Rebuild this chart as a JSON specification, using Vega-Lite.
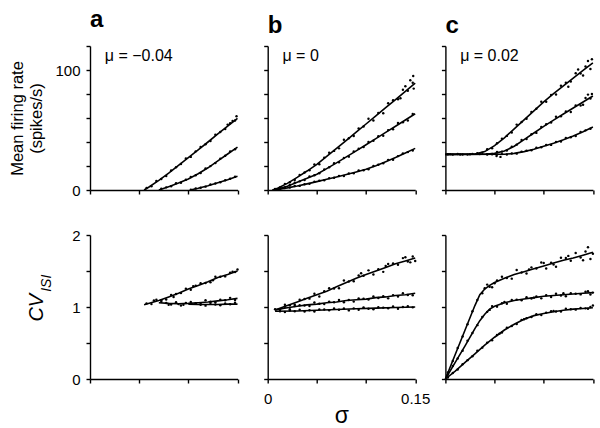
{
"$schema":"https://vega.github.io/schema/vega-lite/v6.json",
"background":"white",
"padding":{"left":9,"top":8,"right":8,"bottom":0},
"config":{
 "font":"Liberation Sans",
 "view":{"stroke":null},
 "axis":{"grid":false,"labelFont":"Liberation Sans","labelFontSize":15,"labelColor":"#000","titleFont":"Liberation Sans","titleFontWeight":"normal","titleColor":"#000","domainColor":"#000","tickColor":"#000","domainWidth":1.4,"tickWidth":1.4,"tickSize":4,"labelFlush":false,"labelOverlap":false,"labelPadding":6},
 "title":{"font":"Liberation Sans","fontSize":24,"fontWeight":"bold","anchor":"start","color":"#000","offset":7,"frame":"group"}
},
"datasets":{
"lines":[
{"p":"aT","c":1,"x":0.055,"y":0},{"p":"aT","c":1,"x":0.06,"y":2.5},{"p":"aT","c":1,"x":0.07,"y":8},{"p":"aT","c":1,"x":0.08,"y":14},{"p":"aT","c":1,"x":0.09,"y":20.5},{"p":"aT","c":1,"x":0.1,"y":27},{"p":"aT","c":1,"x":0.11,"y":33.5},{"p":"aT","c":1,"x":0.12,"y":40},{"p":"aT","c":1,"x":0.13,"y":46.8},{"p":"aT","c":1,"x":0.14,"y":53.3},{"p":"aT","c":1,"x":0.15,"y":59.7},
{"p":"aT","c":2,"x":0.07,"y":0},{"p":"aT","c":2,"x":0.08,"y":2.8},{"p":"aT","c":2,"x":0.09,"y":5.8},{"p":"aT","c":2,"x":0.1,"y":9.2},{"p":"aT","c":2,"x":0.11,"y":13.5},{"p":"aT","c":2,"x":0.12,"y":18.5},{"p":"aT","c":2,"x":0.13,"y":24.2},{"p":"aT","c":2,"x":0.14,"y":30},{"p":"aT","c":2,"x":0.15,"y":35.8},
{"p":"aT","c":3,"x":0.102,"y":0},{"p":"aT","c":3,"x":0.11,"y":1.5},{"p":"aT","c":3,"x":0.12,"y":3.6},{"p":"aT","c":3,"x":0.13,"y":6.1},{"p":"aT","c":3,"x":0.14,"y":8.6},{"p":"aT","c":3,"x":0.15,"y":11.4},
{"p":"bT","c":1,"x":0.005,"y":0},{"p":"bT","c":1,"x":0.01,"y":1.5},{"p":"bT","c":1,"x":0.02,"y":5.5},{"p":"bT","c":1,"x":0.03,"y":10.5},{"p":"bT","c":1,"x":0.04,"y":15.8},{"p":"bT","c":1,"x":0.05,"y":21.4},{"p":"bT","c":1,"x":0.06,"y":28},{"p":"bT","c":1,"x":0.07,"y":34.7},{"p":"bT","c":1,"x":0.08,"y":41.4},{"p":"bT","c":1,"x":0.09,"y":48.2},{"p":"bT","c":1,"x":0.1,"y":55},{"p":"bT","c":1,"x":0.11,"y":61.8},{"p":"bT","c":1,"x":0.12,"y":68.6},{"p":"bT","c":1,"x":0.13,"y":75.4},{"p":"bT","c":1,"x":0.14,"y":82.2},{"p":"bT","c":1,"x":0.15,"y":89},
{"p":"bT","c":2,"x":0.005,"y":0},{"p":"bT","c":2,"x":0.01,"y":0.8},{"p":"bT","c":2,"x":0.02,"y":3.2},{"p":"bT","c":2,"x":0.03,"y":6.5},{"p":"bT","c":2,"x":0.04,"y":9.7},{"p":"bT","c":2,"x":0.05,"y":13.2},{"p":"bT","c":2,"x":0.06,"y":17.8},{"p":"bT","c":2,"x":0.07,"y":22.6},{"p":"bT","c":2,"x":0.08,"y":27.6},{"p":"bT","c":2,"x":0.09,"y":32.6},{"p":"bT","c":2,"x":0.1,"y":37.7},{"p":"bT","c":2,"x":0.11,"y":42.8},{"p":"bT","c":2,"x":0.12,"y":48},{"p":"bT","c":2,"x":0.13,"y":53.1},{"p":"bT","c":2,"x":0.14,"y":58.3},{"p":"bT","c":2,"x":0.15,"y":63.5},
{"p":"bT","c":3,"x":0.005,"y":0},{"p":"bT","c":3,"x":0.01,"y":0.5},{"p":"bT","c":3,"x":0.02,"y":1.8},{"p":"bT","c":3,"x":0.03,"y":3.3},{"p":"bT","c":3,"x":0.04,"y":5.1},{"p":"bT","c":3,"x":0.05,"y":7},{"p":"bT","c":3,"x":0.06,"y":8.9},{"p":"bT","c":3,"x":0.07,"y":10.9},{"p":"bT","c":3,"x":0.08,"y":12.9},{"p":"bT","c":3,"x":0.09,"y":15},{"p":"bT","c":3,"x":0.1,"y":17.2},{"p":"bT","c":3,"x":0.11,"y":20.2},{"p":"bT","c":3,"x":0.12,"y":23.5},{"p":"bT","c":3,"x":0.13,"y":27},{"p":"bT","c":3,"x":0.14,"y":30.8},{"p":"bT","c":3,"x":0.15,"y":34.7},
{"p":"cT","c":1,"x":0,"y":29.7},{"p":"cT","c":1,"x":0.03,"y":30},{"p":"cT","c":1,"x":0.04,"y":32},{"p":"cT","c":1,"x":0.05,"y":37},{"p":"cT","c":1,"x":0.06,"y":43.5},{"p":"cT","c":1,"x":0.07,"y":51},{"p":"cT","c":1,"x":0.08,"y":58.5},{"p":"cT","c":1,"x":0.09,"y":66},{"p":"cT","c":1,"x":0.1,"y":73.5},{"p":"cT","c":1,"x":0.11,"y":80.3},{"p":"cT","c":1,"x":0.12,"y":86.8},{"p":"cT","c":1,"x":0.13,"y":93.2},{"p":"cT","c":1,"x":0.14,"y":99.6},{"p":"cT","c":1,"x":0.15,"y":106},
{"p":"cT","c":2,"x":0,"y":29.7},{"p":"cT","c":2,"x":0.04,"y":29.8},{"p":"cT","c":2,"x":0.05,"y":30.5},{"p":"cT","c":2,"x":0.06,"y":32.5},{"p":"cT","c":2,"x":0.07,"y":36.5},{"p":"cT","c":2,"x":0.08,"y":42},{"p":"cT","c":2,"x":0.09,"y":47.5},{"p":"cT","c":2,"x":0.1,"y":53},{"p":"cT","c":2,"x":0.11,"y":58.2},{"p":"cT","c":2,"x":0.12,"y":63.3},{"p":"cT","c":2,"x":0.13,"y":68.3},{"p":"cT","c":2,"x":0.14,"y":73.3},{"p":"cT","c":2,"x":0.15,"y":78.3},
{"p":"cT","c":3,"x":0,"y":29.7},{"p":"cT","c":3,"x":0.06,"y":29.8},{"p":"cT","c":3,"x":0.07,"y":30.5},{"p":"cT","c":3,"x":0.08,"y":32},{"p":"cT","c":3,"x":0.09,"y":34},{"p":"cT","c":3,"x":0.1,"y":36.5},{"p":"cT","c":3,"x":0.11,"y":39},{"p":"cT","c":3,"x":0.12,"y":41.8},{"p":"cT","c":3,"x":0.13,"y":45},{"p":"cT","c":3,"x":0.14,"y":48.6},{"p":"cT","c":3,"x":0.15,"y":52.5},
{"p":"aB","c":1,"x":0.055,"y":1.03},{"p":"aB","c":1,"x":0.07,"y":1.09},{"p":"aB","c":1,"x":0.08,"y":1.14},{"p":"aB","c":1,"x":0.09,"y":1.19},{"p":"aB","c":1,"x":0.1,"y":1.25},{"p":"aB","c":1,"x":0.11,"y":1.3},{"p":"aB","c":1,"x":0.12,"y":1.35},{"p":"aB","c":1,"x":0.13,"y":1.41},{"p":"aB","c":1,"x":0.14,"y":1.45},{"p":"aB","c":1,"x":0.15,"y":1.5},
{"p":"aB","c":2,"x":0.07,"y":1.06},{"p":"aB","c":2,"x":0.08,"y":1.05},{"p":"aB","c":2,"x":0.09,"y":1.045},{"p":"aB","c":2,"x":0.1,"y":1.05},{"p":"aB","c":2,"x":0.11,"y":1.06},{"p":"aB","c":2,"x":0.12,"y":1.07},{"p":"aB","c":2,"x":0.13,"y":1.085},{"p":"aB","c":2,"x":0.14,"y":1.1},{"p":"aB","c":2,"x":0.15,"y":1.12},
{"p":"aB","c":3,"x":0.1,"y":1.04},{"p":"aB","c":3,"x":0.11,"y":1.035},{"p":"aB","c":3,"x":0.12,"y":1.035},{"p":"aB","c":3,"x":0.13,"y":1.035},{"p":"aB","c":3,"x":0.14,"y":1.04},{"p":"aB","c":3,"x":0.15,"y":1.04},
{"p":"bB","c":1,"x":0.0075,"y":0.96},{"p":"bB","c":1,"x":0.02,"y":1.02},{"p":"bB","c":1,"x":0.03,"y":1.07},{"p":"bB","c":1,"x":0.04,"y":1.12},{"p":"bB","c":1,"x":0.05,"y":1.17},{"p":"bB","c":1,"x":0.06,"y":1.22},{"p":"bB","c":1,"x":0.07,"y":1.28},{"p":"bB","c":1,"x":0.08,"y":1.34},{"p":"bB","c":1,"x":0.09,"y":1.4},{"p":"bB","c":1,"x":0.1,"y":1.45},{"p":"bB","c":1,"x":0.11,"y":1.5},{"p":"bB","c":1,"x":0.12,"y":1.55},{"p":"bB","c":1,"x":0.13,"y":1.6},{"p":"bB","c":1,"x":0.14,"y":1.64},{"p":"bB","c":1,"x":0.15,"y":1.68},
{"p":"bB","c":2,"x":0.0075,"y":0.96},{"p":"bB","c":2,"x":0.02,"y":0.99},{"p":"bB","c":2,"x":0.03,"y":1.01},{"p":"bB","c":2,"x":0.04,"y":1.03},{"p":"bB","c":2,"x":0.05,"y":1.04},{"p":"bB","c":2,"x":0.06,"y":1.06},{"p":"bB","c":2,"x":0.07,"y":1.07},{"p":"bB","c":2,"x":0.08,"y":1.09},{"p":"bB","c":2,"x":0.09,"y":1.1},{"p":"bB","c":2,"x":0.1,"y":1.11},{"p":"bB","c":2,"x":0.11,"y":1.13},{"p":"bB","c":2,"x":0.12,"y":1.14},{"p":"bB","c":2,"x":0.13,"y":1.16},{"p":"bB","c":2,"x":0.14,"y":1.17},{"p":"bB","c":2,"x":0.15,"y":1.19},
{"p":"bB","c":3,"x":0.0075,"y":0.94},{"p":"bB","c":3,"x":0.03,"y":0.945},{"p":"bB","c":3,"x":0.05,"y":0.955},{"p":"bB","c":3,"x":0.07,"y":0.965},{"p":"bB","c":3,"x":0.09,"y":0.975},{"p":"bB","c":3,"x":0.11,"y":0.985},{"p":"bB","c":3,"x":0.13,"y":0.993},{"p":"bB","c":3,"x":0.15,"y":1.0},
{"p":"cB","c":1,"x":0,"y":0},{"p":"cB","c":1,"x":0.01,"y":0.34},{"p":"cB","c":1,"x":0.02,"y":0.68},{"p":"cB","c":1,"x":0.03,"y":1.02},{"p":"cB","c":1,"x":0.035,"y":1.17},{"p":"cB","c":1,"x":0.04,"y":1.25},{"p":"cB","c":1,"x":0.045,"y":1.3},{"p":"cB","c":1,"x":0.05,"y":1.34},{"p":"cB","c":1,"x":0.06,"y":1.4},{"p":"cB","c":1,"x":0.07,"y":1.45},{"p":"cB","c":1,"x":0.08,"y":1.49},{"p":"cB","c":1,"x":0.09,"y":1.53},{"p":"cB","c":1,"x":0.1,"y":1.57},{"p":"cB","c":1,"x":0.11,"y":1.61},{"p":"cB","c":1,"x":0.12,"y":1.65},{"p":"cB","c":1,"x":0.13,"y":1.68},{"p":"cB","c":1,"x":0.14,"y":1.72},{"p":"cB","c":1,"x":0.15,"y":1.76},
{"p":"cB","c":2,"x":0,"y":0},{"p":"cB","c":2,"x":0.01,"y":0.23},{"p":"cB","c":2,"x":0.02,"y":0.46},{"p":"cB","c":2,"x":0.03,"y":0.7},{"p":"cB","c":2,"x":0.035,"y":0.81},{"p":"cB","c":2,"x":0.04,"y":0.9},{"p":"cB","c":2,"x":0.045,"y":0.97},{"p":"cB","c":2,"x":0.05,"y":1.01},{"p":"cB","c":2,"x":0.06,"y":1.06},{"p":"cB","c":2,"x":0.07,"y":1.09},{"p":"cB","c":2,"x":0.08,"y":1.11},{"p":"cB","c":2,"x":0.09,"y":1.13},{"p":"cB","c":2,"x":0.1,"y":1.15},{"p":"cB","c":2,"x":0.11,"y":1.16},{"p":"cB","c":2,"x":0.12,"y":1.17},{"p":"cB","c":2,"x":0.13,"y":1.18},{"p":"cB","c":2,"x":0.14,"y":1.19},{"p":"cB","c":2,"x":0.15,"y":1.2},
{"p":"cB","c":3,"x":0,"y":0},{"p":"cB","c":3,"x":0.01,"y":0.11},{"p":"cB","c":3,"x":0.02,"y":0.23},{"p":"cB","c":3,"x":0.03,"y":0.35},{"p":"cB","c":3,"x":0.04,"y":0.47},{"p":"cB","c":3,"x":0.05,"y":0.58},{"p":"cB","c":3,"x":0.06,"y":0.68},{"p":"cB","c":3,"x":0.07,"y":0.76},{"p":"cB","c":3,"x":0.08,"y":0.83},{"p":"cB","c":3,"x":0.09,"y":0.88},{"p":"cB","c":3,"x":0.1,"y":0.91},{"p":"cB","c":3,"x":0.11,"y":0.935},{"p":"cB","c":3,"x":0.12,"y":0.955},{"p":"cB","c":3,"x":0.13,"y":0.97},{"p":"cB","c":3,"x":0.14,"y":0.98},{"p":"cB","c":3,"x":0.15,"y":0.99}
],
"dots":[
{"p":"aT","x":0.0575,"y":1.6},{"p":"aT","x":0.0625,"y":3.2},{"p":"aT","x":0.0675,"y":7.5},{"p":"aT","x":0.0725,"y":9.2},{"p":"aT","x":0.0775,"y":11.6},{"p":"aT","x":0.0825,"y":16.2},{"p":"aT","x":0.0875,"y":19.0},{"p":"aT","x":0.0925,"y":21.6},{"p":"aT","x":0.0975,"y":26.2},{"p":"aT","x":0.1025,"y":27.6},{"p":"aT","x":0.1075,"y":32.2},{"p":"aT","x":0.1125,"y":35.8},{"p":"aT","x":0.1175,"y":38.2},{"p":"aT","x":0.1225,"y":40.9},{"p":"aT","x":0.1275,"y":46.1},{"p":"aT","x":0.1325,"y":48.4},{"p":"aT","x":0.1375,"y":50.8},{"p":"aT","x":0.1425,"y":55.6},{"p":"aT","x":0.1475,"y":57.9},{"p":"aT","x":0.145,"y":57.5},{"p":"aT","x":0.149,"y":61.5},{"p":"aT","x":0.14,"y":54.5},
{"p":"aT","x":0.0725,"y":1.1},{"p":"aT","x":0.0775,"y":2.2},{"p":"aT","x":0.0825,"y":3.2},{"p":"aT","x":0.0875,"y":5.6},{"p":"aT","x":0.0925,"y":6.0},{"p":"aT","x":0.0975,"y":8.6},{"p":"aT","x":0.1025,"y":10.8},{"p":"aT","x":0.1075,"y":12.3},{"p":"aT","x":0.1125,"y":14.2},{"p":"aT","x":0.1175,"y":18.0},{"p":"aT","x":0.1225,"y":19.9},{"p":"aT","x":0.1275,"y":22.4},{"p":"aT","x":0.1325,"y":26.0},{"p":"aT","x":0.1375,"y":28.5},{"p":"aT","x":0.1425,"y":32.1},{"p":"aT","x":0.1475,"y":33.9},
{"p":"aT","x":0.1025,"y":0.2},{"p":"aT","x":0.1075,"y":1.3},{"p":"aT","x":0.1125,"y":1.9},{"p":"aT","x":0.1175,"y":2.8},{"p":"aT","x":0.1225,"y":4.6},{"p":"aT","x":0.1275,"y":5.5},{"p":"aT","x":0.1325,"y":6.5},{"p":"aT","x":0.1375,"y":8.2},{"p":"aT","x":0.1425,"y":9.3},{"p":"aT","x":0.1475,"y":11.1},
{"p":"bT","x":0.0075,"y":0.95},{"p":"bT","x":0.0125,"y":2.1},{"p":"bT","x":0.0175,"y":5.1},{"p":"bT","x":0.0225,"y":6.5},{"p":"bT","x":0.0275,"y":8.35},{"p":"bT","x":0.0325,"y":12.5},{"p":"bT","x":0.0375,"y":14.6},{"p":"bT","x":0.0425,"y":16.5},{"p":"bT","x":0.0475,"y":21.2},{"p":"bT","x":0.0525,"y":21.4},{"p":"bT","x":0.0575,"y":26.9},{"p":"bT","x":0.0625,"y":31.0},{"p":"bT","x":0.0675,"y":32.6},{"p":"bT","x":0.0725,"y":34.7},{"p":"bT","x":0.0775,"y":41.9},{"p":"bT","x":0.0825,"y":43.1},{"p":"bT","x":0.0875,"y":45.0},{"p":"bT","x":0.0925,"y":51.2},{"p":"bT","x":0.0975,"y":53.0},{"p":"bT","x":0.1025,"y":59.3},{"p":"bT","x":0.1075,"y":58.0},{"p":"bT","x":0.1125,"y":64.1},{"p":"bT","x":0.1175,"y":64.0},{"p":"bT","x":0.1225,"y":72.3},{"p":"bT","x":0.1275,"y":74.8},{"p":"bT","x":0.1325,"y":75.7},{"p":"bT","x":0.1375,"y":83.5},{"p":"bT","x":0.1425,"y":82.7},{"p":"bT","x":0.1475,"y":89.3},{"p":"bT","x":0.145,"y":91.5},{"p":"bT","x":0.1485,"y":84.5},{"p":"bT","x":0.14,"y":86.5},{"p":"bT","x":0.135,"y":76.5},{"p":"bT","x":0.148,"y":95},
{"p":"bT","x":0.0075,"y":0.2},{"p":"bT","x":0.0125,"y":1.7},{"p":"bT","x":0.0175,"y":2.1},{"p":"bT","x":0.0225,"y":4.2},{"p":"bT","x":0.0275,"y":6.1},{"p":"bT","x":0.0325,"y":7.2},{"p":"bT","x":0.0375,"y":8.4},{"p":"bT","x":0.0425,"y":11.3},{"p":"bT","x":0.0475,"y":12.3},{"p":"bT","x":0.0525,"y":13.9},{"p":"bT","x":0.0575,"y":17.1},{"p":"bT","x":0.0625,"y":18.9},{"p":"bT","x":0.0675,"y":22.3},{"p":"bT","x":0.0725,"y":23.1},{"p":"bT","x":0.0775,"y":26.6},{"p":"bT","x":0.0825,"y":27.8},{"p":"bT","x":0.0875,"y":32.1},{"p":"bT","x":0.0925,"y":34.3},{"p":"bT","x":0.0975,"y":35.9},{"p":"bT","x":0.1025,"y":40.1},{"p":"bT","x":0.1075,"y":41.1},{"p":"bT","x":0.1125,"y":44.8},{"p":"bT","x":0.1175,"y":45.2},{"p":"bT","x":0.1225,"y":49.9},{"p":"bT","x":0.1275,"y":50.7},{"p":"bT","x":0.1325,"y":55.9},{"p":"bT","x":0.1375,"y":56.5},{"p":"bT","x":0.1425,"y":58.0},{"p":"bT","x":0.1475,"y":63.3},
{"p":"bT","x":0.0075,"y":0.25},{"p":"bT","x":0.0125,"y":0.61},{"p":"bT","x":0.0175,"y":1.68},{"p":"bT","x":0.0225,"y":2.14},{"p":"bT","x":0.0275,"y":3.33},{"p":"bT","x":0.0325,"y":3.43},{"p":"bT","x":0.0375,"y":4.75},{"p":"bT","x":0.0425,"y":5.12},{"p":"bT","x":0.0475,"y":6.85},{"p":"bT","x":0.0525,"y":7.65},{"p":"bT","x":0.0575,"y":8.19},{"p":"bT","x":0.0625,"y":9.89},{"p":"bT","x":0.0675,"y":10.21},{"p":"bT","x":0.0725,"y":11.73},{"p":"bT","x":0.0775,"y":11.71},{"p":"bT","x":0.0825,"y":13.71},{"p":"bT","x":0.0875,"y":13.96},{"p":"bT","x":0.0925,"y":16.23},{"p":"bT","x":0.0975,"y":16.41},{"p":"bT","x":0.1025,"y":17.22},{"p":"bT","x":0.1075,"y":19.95},{"p":"bT","x":0.1125,"y":21.12},{"p":"bT","x":0.1175,"y":22.23},{"p":"bT","x":0.1225,"y":25.11},{"p":"bT","x":0.1275,"y":25.19},{"p":"bT","x":0.1325,"y":28.24},{"p":"bT","x":0.1375,"y":30.54},{"p":"bT","x":0.1425,"y":31.58},{"p":"bT","x":0.1475,"y":32.9},
{"p":"cT","x":0.0025,"y":29.8},{"p":"cT","x":0.0075,"y":29.5},{"p":"cT","x":0.0125,"y":30.0},{"p":"cT","x":0.0175,"y":29.6},{"p":"cT","x":0.0225,"y":29.5},{"p":"cT","x":0.0275,"y":30.1},{"p":"cT","x":0.0325,"y":30.6},{"p":"cT","x":0.0375,"y":31.1},{"p":"cT","x":0.0425,"y":33.9},{"p":"cT","x":0.0475,"y":34.8},{"p":"cT","x":0.0525,"y":38.9},{"p":"cT","x":0.0575,"y":42.8},{"p":"cT","x":0.0625,"y":45.1},{"p":"cT","x":0.0675,"y":47.9},{"p":"cT","x":0.0725,"y":54.5},{"p":"cT","x":0.0775,"y":56.6},{"p":"cT","x":0.0825,"y":59.3},{"p":"cT","x":0.0875,"y":65.1},{"p":"cT","x":0.0925,"y":67.7},{"p":"cT","x":0.0975,"y":73.6},{"p":"cT","x":0.1025,"y":73.5},{"p":"cT","x":0.1075,"y":79.1},{"p":"cT","x":0.1125,"y":79.6},{"p":"cT","x":0.1175,"y":86.8},{"p":"cT","x":0.1225,"y":89.3},{"p":"cT","x":0.1275,"y":90.4},{"p":"cT","x":0.1325,"y":97.3},{"p":"cT","x":0.1375,"y":97.0},{"p":"cT","x":0.1425,"y":102.9},{"p":"cT","x":0.1475,"y":100.9},{"p":"cT","x":0.145,"y":107.5},{"p":"cT","x":0.149,"y":109},{"p":"cT","x":0.14,"y":95.5},{"p":"cT","x":0.135,"y":100.5},{"p":"cT","x":0.125,"y":86},
{"p":"cT","x":0.005,"y":29.9},{"p":"cT","x":0.015,"y":29.6},{"p":"cT","x":0.025,"y":29.8},{"p":"cT","x":0.035,"y":29.9},{"p":"cT","x":0.0425,"y":29.9},{"p":"cT","x":0.0475,"y":29.8},{"p":"cT","x":0.0525,"y":31.7},{"p":"cT","x":0.0575,"y":32.0},{"p":"cT","x":0.0625,"y":33.0},{"p":"cT","x":0.0675,"y":36.0},{"p":"cT","x":0.0725,"y":37.8},{"p":"cT","x":0.0775,"y":41.7},{"p":"cT","x":0.0825,"y":42.5},{"p":"cT","x":0.0875,"y":46.4},{"p":"cT","x":0.0925,"y":47.6},{"p":"cT","x":0.0975,"y":52.5},{"p":"cT","x":0.1025,"y":54.8},{"p":"cT","x":0.1075,"y":56.2},{"p":"cT","x":0.1125,"y":61.0},{"p":"cT","x":0.1175,"y":61.4},{"p":"cT","x":0.1225,"y":65.5},{"p":"cT","x":0.1275,"y":65.0},{"p":"cT","x":0.1325,"y":70.4},{"p":"cT","x":0.1375,"y":70.5},{"p":"cT","x":0.1425,"y":76.7},{"p":"cT","x":0.1475,"y":76.3},{"p":"cT","x":0.145,"y":79.5},{"p":"cT","x":0.149,"y":80},{"p":"cT","x":0.14,"y":71.0},
{"p":"cT","x":0.0425,"y":29.6},{"p":"cT","x":0.0475,"y":30.1},{"p":"cT","x":0.0525,"y":29.5},{"p":"cT","x":0.0575,"y":29.9},{"p":"cT","x":0.052,"y":28.3},{"p":"cT","x":0.056,"y":27.6},{"p":"cT","x":0.0625,"y":29.6},{"p":"cT","x":0.0675,"y":30.4},{"p":"cT","x":0.0725,"y":30.3},{"p":"cT","x":0.0775,"y":32.0},{"p":"cT","x":0.0825,"y":32.7},{"p":"cT","x":0.0875,"y":33.2},{"p":"cT","x":0.0925,"y":35.2},{"p":"cT","x":0.0975,"y":35.7},{"p":"cT","x":0.1025,"y":37.5},{"p":"cT","x":0.1075,"y":37.6},{"p":"cT","x":0.1125,"y":40.0},{"p":"cT","x":0.1175,"y":40.5},{"p":"cT","x":0.1225,"y":43.4},{"p":"cT","x":0.1275,"y":43.9},{"p":"cT","x":0.1325,"y":45.0},{"p":"cT","x":0.1375,"y":48.3},{"p":"cT","x":0.1425,"y":49.7},{"p":"cT","x":0.1475,"y":51.0},
{"p":"aB","x":0.0575,"y":1.05},{"p":"aB","x":0.0625,"y":1.04},{"p":"aB","x":0.0675,"y":1.10},{"p":"aB","x":0.0725,"y":1.095},{"p":"aB","x":0.0775,"y":1.105},{"p":"aB","x":0.0825,"y":1.168},{"p":"aB","x":0.0875,"y":1.18},{"p":"aB","x":0.0925,"y":1.193},{"p":"aB","x":0.0975,"y":1.255},{"p":"aB","x":0.1025,"y":1.238},{"p":"aB","x":0.1075,"y":1.295},{"p":"aB","x":0.1125,"y":1.33},{"p":"aB","x":0.1175,"y":1.333},{"p":"aB","x":0.1225,"y":1.345},{"p":"aB","x":0.1275,"y":1.42},{"p":"aB","x":0.1325,"y":1.42},{"p":"aB","x":0.1375,"y":1.425},{"p":"aB","x":0.1425,"y":1.475},{"p":"aB","x":0.1475,"y":1.485},{"p":"aB","x":0.065,"y":1.09},{"p":"aB","x":0.085,"y":1.14},{"p":"aB","x":0.105,"y":1.29},{"p":"aB","x":0.125,"y":1.37},{"p":"aB","x":0.145,"y":1.49},{"p":"aB","x":0.15,"y":1.52},
{"p":"aB","x":0.0725,"y":1.073},{"p":"aB","x":0.0775,"y":1.055},{"p":"aB","x":0.0825,"y":1.036},{"p":"aB","x":0.0875,"y":1.066},{"p":"aB","x":0.0925,"y":1.021},{"p":"aB","x":0.0975,"y":1.056},{"p":"aB","x":0.1025,"y":1.07},{"p":"aB","x":0.1075,"y":1.053},{"p":"aB","x":0.1125,"y":1.043},{"p":"aB","x":0.1175,"y":1.093},{"p":"aB","x":0.1225,"y":1.074},{"p":"aB","x":0.1275,"y":1.066},{"p":"aB","x":0.1325,"y":1.101},{"p":"aB","x":0.1375,"y":1.094},{"p":"aB","x":0.1425,"y":1.127},{"p":"aB","x":0.1475,"y":1.098},
{"p":"aB","x":0.1025,"y":1.044},{"p":"aB","x":0.1075,"y":1.05},{"p":"aB","x":0.1125,"y":1.031},{"p":"aB","x":0.1175,"y":1.019},{"p":"aB","x":0.1225,"y":1.055},{"p":"aB","x":0.1275,"y":1.035},{"p":"aB","x":0.1325,"y":1.024},{"p":"aB","x":0.1375,"y":1.049},{"p":"aB","x":0.1425,"y":1.038},{"p":"aB","x":0.1475,"y":1.058},{"p":"aB","x":0.08,"y":1.03},{"p":"aB","x":0.09,"y":1.04},{"p":"aB","x":0.095,"y":1.03},
{"p":"bB","x":0.0075,"y":0.969},{"p":"bB","x":0.0125,"y":0.967},{"p":"bB","x":0.0175,"y":1.031},{"p":"bB","x":0.0225,"y":1.025},{"p":"bB","x":0.0275,"y":1.033},{"p":"bB","x":0.0325,"y":1.1},{"p":"bB","x":0.0375,"y":1.111},{"p":"bB","x":0.0425,"y":1.116},{"p":"bB","x":0.0475,"y":1.185},{"p":"bB","x":0.0525,"y":1.147},{"p":"bB","x":0.0575,"y":1.219},{"p":"bB","x":0.0625,"y":1.262},{"p":"bB","x":0.0675,"y":1.257},{"p":"bB","x":0.0725,"y":1.261},{"p":"bB","x":0.0775,"y":1.368},{"p":"bB","x":0.0825,"y":1.355},{"p":"bB","x":0.0875,"y":1.357},{"p":"bB","x":0.0925,"y":1.437},{"p":"bB","x":0.0975,"y":1.433},{"p":"bB","x":0.1025,"y":1.509},{"p":"bB","x":0.1075,"y":1.452},{"p":"bB","x":0.1125,"y":1.524},{"p":"bB","x":0.1175,"y":1.488},{"p":"bB","x":0.1225,"y":1.597},{"p":"bB","x":0.1275,"y":1.605},{"p":"bB","x":0.1325,"y":1.586},{"p":"bB","x":0.1375,"y":1.679},{"p":"bB","x":0.1425,"y":1.631},{"p":"bB","x":0.1475,"y":1.702},{"p":"bB","x":0.145,"y":1.62},{"p":"bB","x":0.15,"y":1.64},{"p":"bB","x":0.14,"y":1.69},{"p":"bB","x":0.12,"y":1.57},{"p":"bB","x":0.095,"y":1.47},
{"p":"bB","x":0.0125,"y":0.959},{"p":"bB","x":0.0175,"y":1.003},{"p":"bB","x":0.0225,"y":0.97},{"p":"bB","x":0.0275,"y":1.013},{"p":"bB","x":0.0325,"y":1.023},{"p":"bB","x":0.0375,"y":1.02},{"p":"bB","x":0.0425,"y":1.013},{"p":"bB","x":0.0475,"y":1.063},{"p":"bB","x":0.0525,"y":1.045},{"p":"bB","x":0.0575,"y":1.04},{"p":"bB","x":0.0625,"y":1.075},{"p":"bB","x":0.0675,"y":1.065},{"p":"bB","x":0.0725,"y":1.097},{"p":"bB","x":0.0775,"y":1.067},{"p":"bB","x":0.0825,"y":1.097},{"p":"bB","x":0.0875,"y":1.075},{"p":"bB","x":0.0925,"y":1.118},{"p":"bB","x":0.0975,"y":1.115},{"p":"bB","x":0.1025,"y":1.105},{"p":"bB","x":0.1075,"y":1.145},{"p":"bB","x":0.1125,"y":1.125},{"p":"bB","x":0.1175,"y":1.15},{"p":"bB","x":0.1225,"y":1.12},{"p":"bB","x":0.1275,"y":1.165},{"p":"bB","x":0.1325,"y":1.145},{"p":"bB","x":0.1375,"y":1.19},{"p":"bB","x":0.1425,"y":1.168},{"p":"bB","x":0.1475,"y":1.162},
{"p":"bB","x":0.0125,"y":0.941},{"p":"bB","x":0.0175,"y":0.931},{"p":"bB","x":0.0225,"y":0.952},{"p":"bB","x":0.0275,"y":0.942},{"p":"bB","x":0.0325,"y":0.962},{"p":"bB","x":0.0375,"y":0.936},{"p":"bB","x":0.0425,"y":0.955},{"p":"bB","x":0.0475,"y":0.938},{"p":"bB","x":0.0525,"y":0.967},{"p":"bB","x":0.0575,"y":0.964},{"p":"bB","x":0.0625,"y":0.954},{"p":"bB","x":0.0675,"y":0.978},{"p":"bB","x":0.0725,"y":0.961},{"p":"bB","x":0.0775,"y":0.978},{"p":"bB","x":0.0825,"y":0.953},{"p":"bB","x":0.0875,"y":0.981},{"p":"bB","x":0.0925,"y":0.963},{"p":"bB","x":0.0975,"y":0.995},{"p":"bB","x":0.1025,"y":0.976},{"p":"bB","x":0.1075,"y":0.968},{"p":"bB","x":0.1125,"y":0.997},{"p":"bB","x":0.1175,"y":0.991},{"p":"bB","x":0.1225,"y":0.982},{"p":"bB","x":0.1275,"y":1.006},{"p":"bB","x":0.1325,"y":0.976},{"p":"bB","x":0.1375,"y":1.001},{"p":"bB","x":0.1425,"y":1.011},{"p":"bB","x":0.1475,"y":0.995},
{"p":"cB","x":0.0025,"y":0.09},{"p":"cB","x":0.0075,"y":0.25},{"p":"cB","x":0.0125,"y":0.43},{"p":"cB","x":0.0175,"y":0.59},{"p":"cB","x":0.0225,"y":0.76},{"p":"cB","x":0.0275,"y":0.94},{"p":"cB","x":0.0325,"y":1.097},{"p":"cB","x":0.0375,"y":1.19},{"p":"cB","x":0.0425,"y":1.311},{"p":"cB","x":0.0475,"y":1.273},{"p":"cB","x":0.0525,"y":1.369},{"p":"cB","x":0.0575,"y":1.42},{"p":"cB","x":0.0625,"y":1.402},{"p":"cB","x":0.0675,"y":1.394},{"p":"cB","x":0.0725,"y":1.515},{"p":"cB","x":0.0775,"y":1.48},{"p":"cB","x":0.0825,"y":1.465},{"p":"cB","x":0.0875,"y":1.55},{"p":"cB","x":0.0925,"y":1.534},{"p":"cB","x":0.0975,"y":1.618},{"p":"cB","x":0.1025,"y":1.534},{"p":"cB","x":0.1075,"y":1.614},{"p":"cB","x":0.1125,"y":1.558},{"p":"cB","x":0.1175,"y":1.683},{"p":"cB","x":0.1225,"y":1.68},{"p":"cB","x":0.1275,"y":1.643},{"p":"cB","x":0.1325,"y":1.751},{"p":"cB","x":0.1375,"y":1.687},{"p":"cB","x":0.1425,"y":1.77},{"p":"cB","x":0.1475,"y":1.668},{"p":"cB","x":0.145,"y":1.83},{"p":"cB","x":0.15,"y":1.74},{"p":"cB","x":0.14,"y":1.65},{"p":"cB","x":0.125,"y":1.71},{"p":"cB","x":0.11,"y":1.59},{"p":"cB","x":0.1,"y":1.61},{"p":"cB","x":0.085,"y":1.52},{"p":"cB","x":0.045,"y":1.28},{"p":"cB","x":0.05,"y":1.33},{"p":"cB","x":0.04,"y":1.26},
{"p":"cB","x":0.0025,"y":0.061},{"p":"cB","x":0.0075,"y":0.181},{"p":"cB","x":0.0125,"y":0.285},{"p":"cB","x":0.0175,"y":0.393},{"p":"cB","x":0.0225,"y":0.532},{"p":"cB","x":0.0275,"y":0.64},{"p":"cB","x":0.0325,"y":0.748},{"p":"cB","x":0.0375,"y":0.861},{"p":"cB","x":0.0425,"y":0.9325},{"p":"cB","x":0.0475,"y":1.0125},{"p":"cB","x":0.0525,"y":1.005},{"p":"cB","x":0.0575,"y":1.0525},{"p":"cB","x":0.0625,"y":1.045},{"p":"cB","x":0.0675,"y":1.0975},{"p":"cB","x":0.0725,"y":1.1025},{"p":"cB","x":0.0775,"y":1.095},{"p":"cB","x":0.0825,"y":1.135},{"p":"cB","x":0.0875,"y":1.1175},{"p":"cB","x":0.0925,"y":1.1475},{"p":"cB","x":0.0975,"y":1.12},{"p":"cB","x":0.1025,"y":1.1625},{"p":"cB","x":0.1075,"y":1.14},{"p":"cB","x":0.1125,"y":1.185},{"p":"cB","x":0.1175,"y":1.16},{"p":"cB","x":0.1225,"y":1.15},{"p":"cB","x":0.1275,"y":1.1925},{"p":"cB","x":0.1325,"y":1.185},{"p":"cB","x":0.1375,"y":1.175},{"p":"cB","x":0.1425,"y":1.2125},{"p":"cB","x":0.1475,"y":1.1725},{"p":"cB","x":0.145,"y":1.22},{"p":"cB","x":0.15,"y":1.2},{"p":"cB","x":0.12,"y":1.19},{"p":"cB","x":0.09,"y":1.13},{"p":"cB","x":0.06,"y":1.07},{"p":"cB","x":0.045,"y":0.96},
{"p":"cB","x":0.0025,"y":0.022},{"p":"cB","x":0.0075,"y":0.084},{"p":"cB","x":0.0125,"y":0.133},{"p":"cB","x":0.0175,"y":0.205},{"p":"cB","x":0.0225,"y":0.262},{"p":"cB","x":0.0275,"y":0.317},{"p":"cB","x":0.0325,"y":0.392},{"p":"cB","x":0.0375,"y":0.4355},{"p":"cB","x":0.0425,"y":0.505},{"p":"cB","x":0.0475,"y":0.5375},{"p":"cB","x":0.0525,"y":0.611},{"p":"cB","x":0.0575,"y":0.6445},{"p":"cB","x":0.0625,"y":0.7135},{"p":"cB","x":0.0675,"y":0.7355},{"p":"cB","x":0.0725,"y":0.764},{"p":"cB","x":0.0775,"y":0.8215},{"p":"cB","x":0.0825,"y":0.844},{"p":"cB","x":0.0875,"y":0.86},{"p":"cB","x":0.0925,"y":0.8995},{"p":"cB","x":0.0975,"y":0.8875},{"p":"cB","x":0.1025,"y":0.922},{"p":"cB","x":0.1075,"y":0.9405},{"p":"cB","x":0.1125,"y":0.937},{"p":"cB","x":0.1175,"y":0.938},{"p":"cB","x":0.1225,"y":0.975},{"p":"cB","x":0.1275,"y":0.9675},{"p":"cB","x":0.1325,"y":0.9635},{"p":"cB","x":0.1375,"y":0.985},{"p":"cB","x":0.1425,"y":0.981},{"p":"cB","x":0.1475,"y":1.001},{"p":"cB","x":0.15,"y":1.02},{"p":"cB","x":0.145,"y":0.975},{"p":"cB","x":0.11,"y":0.945},{"p":"cB","x":0.08,"y":0.83},{"p":"cB","x":0.055,"y":0.63}
]
},
"spacing":30,
"vconcat":[
{"hconcat":[
 {"width":147.5,"height":144,"title":{"text":"a"},
  "layer":[
   {"data":{"name":"dots"},"transform":[{"filter":"datum.p=='aT'"}],"mark":{"type":"circle","size":6,"color":"#000","opacity":1},
    "encoding":{"x":{"field":"x","type":"quantitative","scale":{"domain":[0,0.15],"nice":false},"axis":{"values":[0,0.05,0.1,0.15],"tickCount":20,"labels":false,"title":null}},
                "y":{"field":"y","type":"quantitative","scale":{"domain":[0,120],"nice":false},"axis":{"values":[0,20,40,60,80,100,120],"tickCount":20,"labelOverlap":false,"labelExpr":"datum.value==0?'0':(datum.value==100?'100':'')","title":["Mean firing rate","(spikes/s)"],"titleFontSize":16.5,"titleLineHeight":19,"titlePadding":10}}}},
   {"data":{"name":"lines"},"transform":[{"filter":"datum.p=='aT'"}],"mark":{"type":"line","color":"#000","strokeWidth":1.6},
    "encoding":{"x":{"field":"x","type":"quantitative"},"y":{"field":"y","type":"quantitative"},"detail":{"field":"c"}}},
   {"data":{"values":[{}]},"mark":{"type":"text","align":"left","baseline":"middle","fontSize":16,"font":"Liberation Sans","color":"#000"},
    "encoding":{"x":{"datum":0.015},"y":{"datum":112},"text":{"value":"μ = −0.04"}}}
  ]},
 {"width":147.5,"height":144,"title":{"text":"b"},
  "layer":[
   {"data":{"name":"dots"},"transform":[{"filter":"datum.p=='bT'"}],"mark":{"type":"circle","size":6,"color":"#000","opacity":1},
    "encoding":{"x":{"field":"x","type":"quantitative","scale":{"domain":[0,0.15],"nice":false},"axis":{"values":[0,0.05,0.1,0.15],"tickCount":20,"labels":false,"title":null}},
                "y":{"field":"y","type":"quantitative","scale":{"domain":[0,120],"nice":false},"axis":{"values":[0,20,40,60,80,100,120],"tickCount":20,"labels":false,"title":null}}}},
   {"data":{"name":"lines"},"transform":[{"filter":"datum.p=='bT'"}],"mark":{"type":"line","color":"#000","strokeWidth":1.6},
    "encoding":{"x":{"field":"x","type":"quantitative"},"y":{"field":"y","type":"quantitative"},"detail":{"field":"c"}}},
   {"data":{"values":[{}]},"mark":{"type":"text","align":"left","baseline":"middle","fontSize":16,"font":"Liberation Sans","color":"#000"},
    "encoding":{"x":{"datum":0.015},"y":{"datum":112},"text":{"value":"μ = 0"}}}
  ]},
 {"width":147.5,"height":144,"title":{"text":"c"},
  "layer":[
   {"data":{"name":"dots"},"transform":[{"filter":"datum.p=='cT'"}],"mark":{"type":"circle","size":6,"color":"#000","opacity":1},
    "encoding":{"x":{"field":"x","type":"quantitative","scale":{"domain":[0,0.15],"nice":false},"axis":{"values":[0,0.05,0.1,0.15],"tickCount":20,"labels":false,"title":null}},
                "y":{"field":"y","type":"quantitative","scale":{"domain":[0,120],"nice":false},"axis":{"values":[0,20,40,60,80,100,120],"tickCount":20,"labels":false,"title":null}}}},
   {"data":{"name":"lines"},"transform":[{"filter":"datum.p=='cT'"}],"mark":{"type":"line","color":"#000","strokeWidth":1.6},
    "encoding":{"x":{"field":"x","type":"quantitative"},"y":{"field":"y","type":"quantitative"},"detail":{"field":"c"}}},
   {"data":{"values":[{}]},"mark":{"type":"text","align":"left","baseline":"middle","fontSize":16,"font":"Liberation Sans","color":"#000"},
    "encoding":{"x":{"datum":0.015},"y":{"datum":112},"text":{"value":"μ = 0.02"}}}
  ]}
],"spacing":29.7,"bounds":"flush"},
{"hconcat":[
 {"width":147.5,"height":144,
  "layer":[
   {"data":{"name":"dots"},"transform":[{"filter":"datum.p=='aB'"}],"mark":{"type":"circle","size":6,"color":"#000","opacity":1},
    "encoding":{"x":{"field":"x","type":"quantitative","scale":{"domain":[0,0.15],"nice":false},"axis":{"values":[0,0.05,0.1,0.15],"tickCount":20,"labels":false,"title":null}},
                "y":{"field":"y","type":"quantitative","scale":{"domain":[0,2],"nice":false},"axis":{"values":[0,0.5,1,1.5,2],"tickCount":20,"labelOverlap":false,"labelExpr":"datum.value==0?'0':(datum.value==1?'1':(datum.value==2?'2':''))","title":null}}}},
   {"data":{"name":"lines"},"transform":[{"filter":"datum.p=='aB'"}],"mark":{"type":"line","color":"#000","strokeWidth":1.6},
    "encoding":{"x":{"field":"x","type":"quantitative"},"y":{"field":"y","type":"quantitative"},"detail":{"field":"c"}}},
   {"data":{"values":[{}]},"mark":{"type":"text","align":"center","baseline":"middle","angle":270,"fontSize":20,"fontStyle":"italic","font":"Liberation Sans","color":"#000"},
    "encoding":{"x":{"datum":-0.0534},"y":{"datum":0.99},"text":{"value":"CV"}}},
   {"data":{"values":[{}]},"mark":{"type":"text","align":"center","baseline":"middle","angle":270,"fontSize":14,"fontStyle":"italic","font":"Liberation Sans","color":"#000"},
    "encoding":{"x":{"datum":-0.0442},"y":{"datum":1.33},"text":{"value":"ISI"}}}
  ]},
 {"width":147.5,"height":144,
  "layer":[
   {"data":{"name":"dots"},"transform":[{"filter":"datum.p=='bB'"}],"mark":{"type":"circle","size":6,"color":"#000","opacity":1},
    "encoding":{"x":{"field":"x","type":"quantitative","scale":{"domain":[0,0.15],"nice":false},"axis":{"values":[0,0.05,0.1,0.15],"tickCount":20,"labelOverlap":false,"labelExpr":"datum.value==0?'0':(datum.value==0.15?'0.15':'')","title":"σ","titleFontSize":23,"titleBaseline":"alphabetic","titlePadding":16,"labelPadding":8}},
                "y":{"field":"y","type":"quantitative","scale":{"domain":[0,2],"nice":false},"axis":{"values":[0,0.5,1,1.5,2],"tickCount":20,"labels":false,"title":null}}}},
   {"data":{"name":"lines"},"transform":[{"filter":"datum.p=='bB'"}],"mark":{"type":"line","color":"#000","strokeWidth":1.6},
    "encoding":{"x":{"field":"x","type":"quantitative"},"y":{"field":"y","type":"quantitative"},"detail":{"field":"c"}}}
  ]},
 {"width":147.5,"height":144,
  "layer":[
   {"data":{"name":"dots"},"transform":[{"filter":"datum.p=='cB'"}],"mark":{"type":"circle","size":6,"color":"#000","opacity":1},
    "encoding":{"x":{"field":"x","type":"quantitative","scale":{"domain":[0,0.15],"nice":false},"axis":{"values":[0,0.05,0.1,0.15],"tickCount":20,"labels":false,"title":null}},
                "y":{"field":"y","type":"quantitative","scale":{"domain":[0,2],"nice":false},"axis":{"values":[0,0.5,1,1.5,2],"tickCount":20,"labels":false,"title":null}}}},
   {"data":{"name":"lines"},"transform":[{"filter":"datum.p=='cB'"}],"mark":{"type":"line","color":"#000","strokeWidth":1.6},
    "encoding":{"x":{"field":"x","type":"quantitative"},"y":{"field":"y","type":"quantitative"},"detail":{"field":"c"}}}
  ]}
],"spacing":29.7,"bounds":"flush"}
]
}
